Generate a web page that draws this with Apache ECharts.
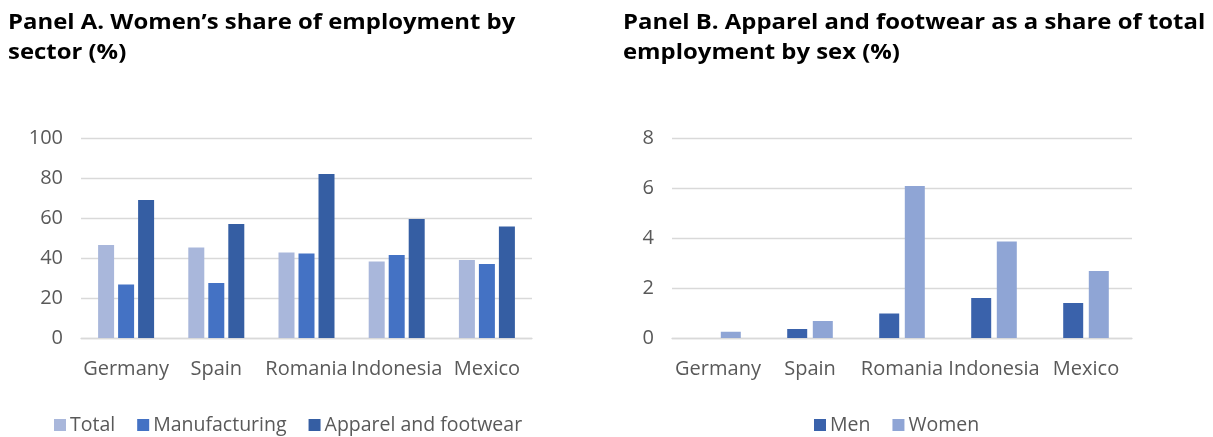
<!DOCTYPE html>
<html>
<head>
<meta charset="utf-8">
<script src="https://cdn.jsdelivr.net/npm/echarts@6/dist/echarts.min.js"></script>
<style>
html,body{margin:0;padding:0;background:#fff;}
#chart{width:1213px;height:437px;}
</style>
</head>
<body>
<div id="chart"></div>
<script>
var categories = ['Germany', 'Spain', 'Romania', 'Indonesia', 'Mexico'];
// Panel A: women's share of employment by sector (%)
var totalShare = [46.5, 45.3, 42.8, 38.3, 39.0];
var manufacturingShare = [26.8, 27.5, 42.2, 41.5, 37.0];
var apparelShare = [69.0, 57.0, 82.0, 59.5, 55.7];
// Panel B: apparel and footwear as share of total employment by sex (%)
var menShare = [0, 0.36, 0.98, 1.6, 1.4];
var womenShare = [0.25, 0.68, 6.08, 3.86, 2.68];
var yTicksA = { min: 0, max: 100, interval: 20 };
var yTicksB = { min: 0, max: 8, interval: 2 };

var titleA = 'Panel A. Women\u2019s share of employment by\nsector (%)';
var titleB = 'Panel B. Apparel and footwear as a share of total\nemployment by sex (%)';

var FONT = '"Open Sans", "Noto Sans", sans-serif';
var labelColor = '#595959';
var gridColor = '#d9d9d9';

var chart = echarts.init(document.getElementById('chart'), null, { renderer: 'canvas' });

function yAxis(idx, t) {
  return {
    type: 'value', gridIndex: idx, min: t.min, max: t.max, interval: t.interval,
    axisLine: { show: false }, axisTick: { show: false },
    axisLabel: { color: labelColor, fontSize: 20, fontFamily: FONT, margin: 18 },
    splitLine: { lineStyle: { color: gridColor, width: 1.3 } }
  };
}
function xAxis(idx) {
  return {
    type: 'category', gridIndex: idx, data: categories,
    axisLine: { show: true, lineStyle: { color: gridColor, width: 1.3 } },
    axisTick: { show: false },
    axisLabel: { color: labelColor, fontSize: 20, fontFamily: FONT, margin: 21, interval: 0 }
  };
}
function titleText(txt, x) {
  return {
    type: 'text', left: x, top: 8, scaleX: 1.195, scaleY: 1.03, originX: 0, originY: 0, silent: true,
    style: { text: txt, font: 'bold 20px ' + FONT, fill: '#000', lineHeight: 29.5 }
  };
}

var option = {
  backgroundColor: '#ffffff',
  animation: false,
  graphic: [titleText(titleA, 8), titleText(titleB, 623)],
  grid: [
    { left: 81, right: 681, top: 138, bottom: 99 },
    { left: 672, right: 81, top: 138, bottom: 99 }
  ],
  xAxis: [xAxis(0), xAxis(1)],
  yAxis: [yAxis(0, yTicksA), yAxis(1, yTicksB)],
  legend: [
    {
      data: ['Total', 'Manufacturing', 'Apparel and footwear'],
      left: 54, top: 415, padding: 0, icon: 'rect', itemWidth: 12, itemHeight: 12, itemGap: 22,
      textStyle: { color: labelColor, fontSize: 19.5, fontFamily: FONT, padding: [0, 0, 0, -1] }
    },
    {
      data: ['Men', 'Women'],
      left: 814, top: 415, padding: 0, icon: 'rect', itemWidth: 12, itemHeight: 12, itemGap: 22,
      textStyle: { color: labelColor, fontSize: 19.5, fontFamily: FONT, padding: [0, 0, 0, -1] }
    }
  ],
  series: [
    { name: 'Total', type: 'bar', xAxisIndex: 0, yAxisIndex: 0, data: totalShare, barWidth: 16, barGap: '25%', itemStyle: { color: '#a9b7db' } },
    { name: 'Manufacturing', type: 'bar', xAxisIndex: 0, yAxisIndex: 0, data: manufacturingShare, barWidth: 16, barGap: '25%', itemStyle: { color: '#4472c4' } },
    { name: 'Apparel and footwear', type: 'bar', xAxisIndex: 0, yAxisIndex: 0, data: apparelShare, barWidth: 16, barGap: '25%', itemStyle: { color: '#355ea3' } },
    { name: 'Men', type: 'bar', xAxisIndex: 1, yAxisIndex: 1, data: menShare, barWidth: 20, barGap: '28%', itemStyle: { color: '#3a62ab' } },
    { name: 'Women', type: 'bar', xAxisIndex: 1, yAxisIndex: 1, data: womenShare, barWidth: 20, barGap: '28%', itemStyle: { color: '#8fa5d5' } }
  ]
};
chart.setOption(option);
</script>
</body>
</html>
